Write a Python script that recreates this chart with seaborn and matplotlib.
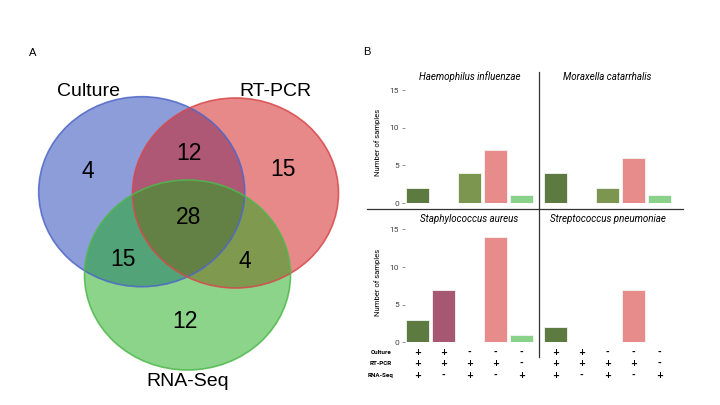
import pandas as pd
import matplotlib.pyplot as plt
import seaborn as sns
from matplotlib.patches import Ellipse
import matplotlib.transforms as mtransforms

# Venn counts (panel A)
venn_sets = ["Culture", "RT-PCR", "RNA-Seq"]
venn_regions = ["C", "R", "S", "CR", "CS", "RS", "CRS"]
venn_counts = [4, 15, 12, 12, 15, 4, 28]

# bar data (panel B)
species = ["Haemophilus influenzae", "Moraxella catarrhalis",
           "Staphylococcus aureus", "Streptococcus pneumoniae"]
combos = ["C+R+S", "C+R", "R+S", "R", "S"]
haemophilus = [2, 0, 4, 7, 1]
moraxella = [4, 0, 2, 6, 1]
staphylococcus = [3, 7, 0, 14, 1]
streptococcus = [2, 0, 0, 7, 0]
culture_sign = ["+", "+", "-", "-", "-"]
rtpcr_sign = ["+", "+", "+", "+", "-"]
rnaseq_sign = ["+", "-", "+", "-", "+"]

bar_colors = {"C+R+S": "#5d7a41", "C+R": "#a65873", "R+S": "#7c964f",
              "R": "#e78b8b", "S": "#8ad28a"}

rows = []
for sp, vals in zip(species, [haemophilus, moraxella, staphylococcus, streptococcus]):
    for c, v in zip(combos, vals):
        rows.append({"species": sp, "combo": c, "count": v})
df = pd.DataFrame(rows)

plt.rcParams["font.family"] = ["Liberation Sans", "DejaVu Sans"]
fig = plt.figure(figsize=(7.2, 4.05), dpi=100)

# background axes in pixel coords for venn + dividers
bg = fig.add_axes([0, 0, 1, 1])
bg.set_xlim(0, 720)
bg.set_ylim(405, 0)
bg.axis("off")

# Venn
circles = [((141.7, 191.7), "#1a3cb4", "#4f66c8"),
           ((235.5, 193.0), "#d01414", "#d8484b"),
           ((187.5, 275.0), "#19aa16", "#4fb84c")]
for (cx, cy), fc, ec in circles:
    bg.add_patch(Ellipse((cx, cy), 206, 190, facecolor=fc, alpha=0.5, edgecolor="none"))
for (cx, cy), fc, ec in circles:
    bg.add_patch(Ellipse((cx, cy), 206, 190, facecolor="none", edgecolor=ec, lw=1.2, alpha=0.85))

label_pos = [(89, 91), (275, 91), (188, 381)]
for name, (x, y) in zip(venn_sets, label_pos):
    bg.text(x, y, name, fontsize=14, ha="center", va="center")
num_pos = {"C": (88, 172), "R": (283, 170), "S": (185, 322), "CR": (189, 153),
           "CS": (123, 260), "RS": (245, 262), "CRS": (189, 217)}
for reg, n in zip(venn_regions, venn_counts):
    x, y = num_pos[reg]
    bg.text(x, y, str(n), fontsize=16.5, ha="center", va="center")

bg.text(33, 53, "A", fontsize=8, ha="center", va="center")
bg.text(367, 52, "B", fontsize=8, ha="center", va="center")

# dividers
bg.plot([539.3, 539.3], [71.7, 356.7], color="#333333", lw=0.9)
bg.plot([367, 683], [209.3, 209.3], color="#333333", lw=0.9)

# facet axes
px = 7.53
lefts = [404.5, 542.6, 404.5, 542.6]
zeros = [203, 203, 342.3, 342.3]
title_y = [77, 77, 219, 219]
axes = []
for i, sp in enumerate(species):
    ax = fig.add_axes([lefts[i] / 720, 1 - zeros[i] / 405, 130 / 720, 16 * px / 405])
    sub = df[df["species"] == sp]
    sns.barplot(data=sub, x="combo", y="count", hue="combo", order=combos,
                palette=bar_colors, saturation=1, width=0.9, edgecolor="#f4f4f4",
                linewidth=0.6, legend=False, ax=ax)
    ax.set_xlim(-0.5, 4.5)
    ax.set_ylim(0, 16)
    for s in ax.spines.values():
        s.set_visible(False)
    ax.set_xticks([])
    ax.set_xlabel("")
    ax.set_facecolor("none")
    ax.set_yticks([0, 5, 10, 15])
    if i % 2 == 0:
        ax.tick_params(axis="y", length=2.5, width=0.5, color="#666666",
                       labelsize=6, labelcolor="#444444", pad=1.5)
        ax.set_ylabel("Number of samples", fontsize=5.5, family="Roboto", labelpad=6)
        for t in ax.get_yticklabels():
            t.set_family("Roboto")
    else:
        ax.tick_params(axis="y", length=0, labelleft=False)
        ax.set_ylabel("")
    trans = mtransforms.blended_transform_factory(ax.transAxes, fig.transFigure)
    ax.text(0.5, 1 - title_y[i] / 405, sp, transform=trans, ha="center", va="center",
            fontsize=7, style="italic", family="Roboto")
    axes.append(ax)

# sign table under the bottom facets
row_names = ["Culture", "RT-PCR", "RNA-Seq"]
row_y = [352.7, 363.3, 375.7]
for name, y in zip(row_names, row_y):
    bg.text(381, y, name, fontsize=4.5, weight="bold", ha="center", va="center", family="Roboto")
for ax in axes[2:]:
    trans = mtransforms.blended_transform_factory(ax.transData, fig.transFigure)
    for signs, y in zip([culture_sign, rtpcr_sign, rnaseq_sign], row_y):
        for j, s in enumerate(signs):
            ax.text(j, 1 - y / 405, s, transform=trans, ha="center", va="center",
                    fontsize=6, weight="bold", family="DejaVu Sans", clip_on=False)

fig.savefig("out.png", dpi=100)
